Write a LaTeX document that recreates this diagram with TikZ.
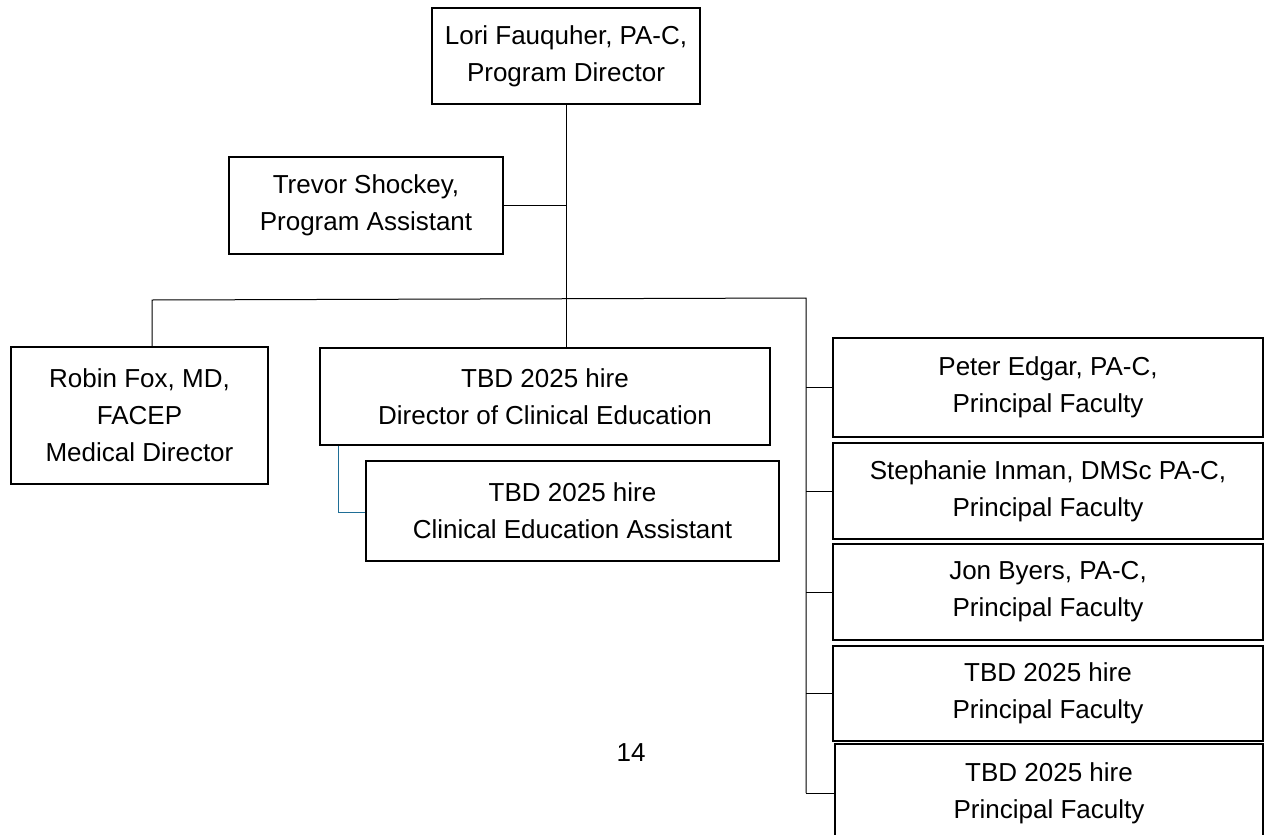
\documentclass[tikz,border=0pt]{standalone}
\usepackage{fontspec}
\setmainfont{Liberation Sans}
\definecolor{linkblue}{HTML}{1F6E96}
\begin{document}
\begin{tikzpicture}[x=1pt,y=-1pt,
  box/.style={draw=black,line width=1.6pt,fill=white,align=center,inner sep=0pt,
    font=\fontsize{26}{37}\selectfont},
  link/.style={draw=black,line width=1pt},
  bluelink/.style={draw=linkblue,line width=1pt}]
\useasboundingbox (0,0) rectangle (1264,835);
\fill[white] (0,0) rectangle (1264,835);
% connectors first (behind boxes)
\coordinate (busL) at (152,300);
\coordinate (busR) at (806,298);
\coordinate (bl) at (338,512);
\node[box,minimum width=268pt,minimum height=96pt] (lori) at (566,56) {Lori Fauquher, PA-C,\\Program Director};
\node[box,minimum width=274pt,minimum height=97pt] (trevor) at (366,205.5) {Trevor Shockey,\\Program Assistant};
\node[box,minimum width=257pt,minimum height=137pt] (robin) at (139.5,415.5) {Robin Fox, MD,\\FACEP\\Medical Director};
\node[box,minimum width=450pt,minimum height=97pt] (dce) at (545,396.5) {TBD 2025 hire\\Director of Clinical Education};
\node[box,minimum width=413pt,minimum height=100pt] (cea) at (572.5,511) {TBD 2025 hire\\Clinical Education Assistant};
\node[box,minimum width=430pt,minimum height=99pt] (peter) at (1048,387.5) {Peter Edgar, PA-C,\\Principal Faculty};
\node[box,minimum width=430pt,minimum height=96pt] (steph) at (1048,491) {Stephanie Inman, DMSc PA-C,\\Principal Faculty};
\node[box,minimum width=430pt,minimum height=96pt] (jon) at (1048,592) {Jon Byers, PA-C,\\Principal Faculty};
\node[box,minimum width=430pt,minimum height=95pt] (tbda) at (1048,693.5) {TBD 2025 hire\\Principal Faculty};
\node[box,minimum width=428pt,minimum height=98pt] (tbdb) at (1049,793) {TBD 2025 hire\\Principal Faculty};
\node[font=\fontsize{26}{37}\selectfont,inner sep=0pt] (page) at (631,753) {14};
% connectors
\draw[link] (lori.south) -- (lori.south |- dce.north);
\draw[link] (trevor.east) -- (trevor.east -| lori.south);
\draw[link] (robin.north -| busL) -- (busL) -- (busR) -- (busR |- tbdb.west);
\draw[link] (busR |- peter.west) -- (peter.west);
\draw[link] (busR |- steph.west) -- (steph.west);
\draw[link] (busR |- jon.west) -- (jon.west);
\draw[link] (busR |- tbda.west) -- (tbda.west);
\draw[link] (busR |- tbdb.west) -- (tbdb.west);
\draw[bluelink] (dce.south -| bl) -- (bl) -- (cea.west |- bl);
\end{tikzpicture}
\end{document}
